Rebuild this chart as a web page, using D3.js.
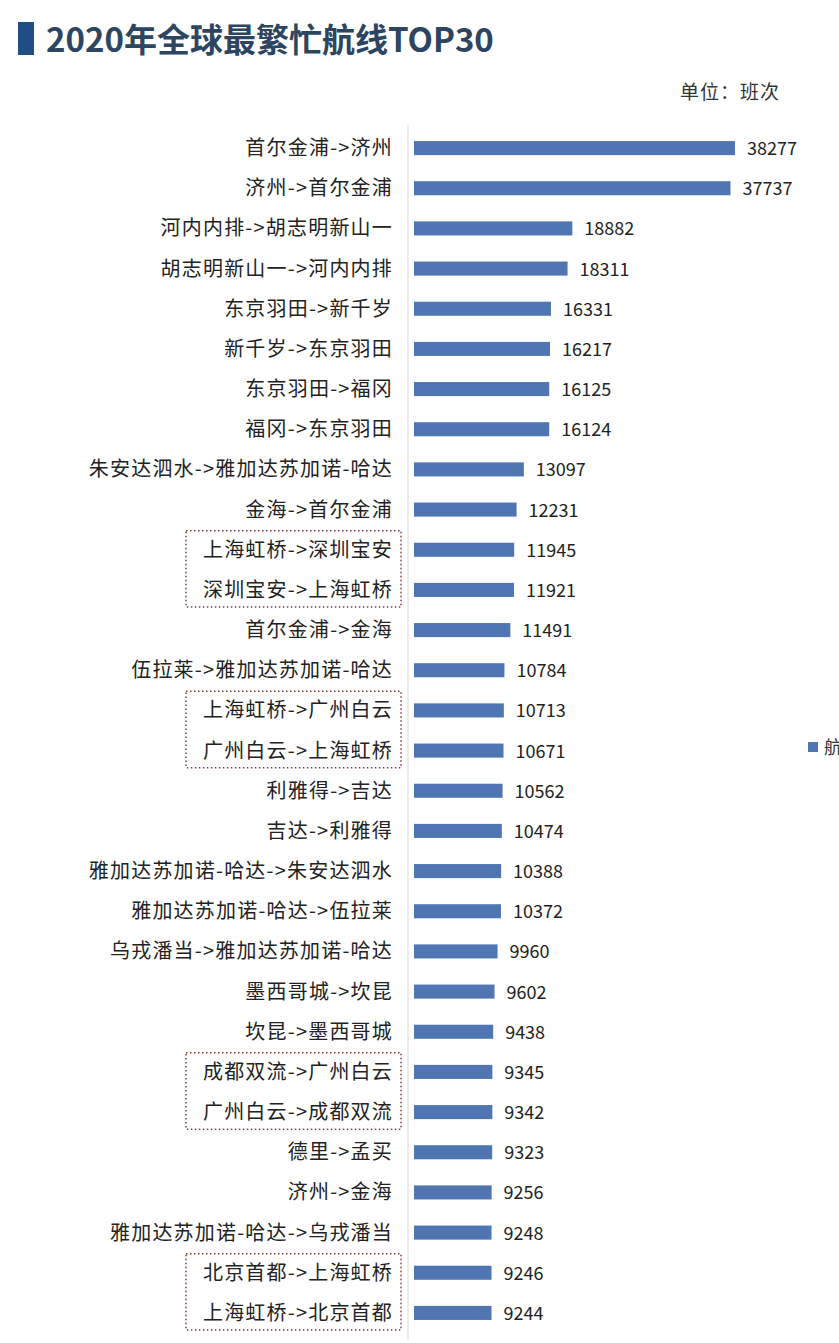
<!DOCTYPE html>
<html><head><meta charset="utf-8">
<script src="https://cdn.jsdelivr.net/npm/d3@7"></script>
<style>body{margin:0;background:#fff}text{font-family:"Noto Sans CJK SC","Noto Sans",sans-serif}</style>
</head><body><div id="chart"></div>
<script>
var routes = ["首尔金浦->济州","济州->首尔金浦","河内内排->胡志明新山一","胡志明新山一->河内内排","东京羽田->新千岁","新千岁->东京羽田","东京羽田->福冈","福冈->东京羽田","朱安达泗水->雅加达苏加诺-哈达","金海->首尔金浦","上海虹桥->深圳宝安","深圳宝安->上海虹桥","首尔金浦->金海","伍拉莱->雅加达苏加诺-哈达","上海虹桥->广州白云","广州白云->上海虹桥","利雅得->吉达","吉达->利雅得","雅加达苏加诺-哈达->朱安达泗水","雅加达苏加诺-哈达->伍拉莱","乌戎潘当->雅加达苏加诺-哈达","墨西哥城->坎昆","坎昆->墨西哥城","成都双流->广州白云","广州白云->成都双流","德里->孟买","济州->金海","雅加达苏加诺-哈达->乌戎潘当","北京首都->上海虹桥","上海虹桥->北京首都"]
var flights = [38277,37737,18882,18311,16331,16217,16125,16124,13097,12231,11945,11921,11491,10784,10713,10671,10562,10474,10388,10372,9960,9602,9438,9345,9342,9323,9256,9248,9246,9244]
var boxedPairs = [10,14,23,28]

var W = 839, H = 1343
var svg = d3.select("#chart").append("svg").attr("width", W).attr("height", H)

svg.append("rect").attr("x",18).attr("y",22).attr("width",16).attr("height",33).attr("fill","#1f4e86")
svg.append("text").attr("x",46).attr("y",52).attr("font-size",33).attr("font-weight","bold")
    .attr("fill","#2c4560").text("2020年全球最繁忙航线TOP30")
svg.append("text").attr("x",780).attr("y",99).attr("text-anchor","end").attr("font-size",19)
    .attr("letter-spacing",1).attr("fill","#333").text("单位：班次")

var x = d3.scaleLinear().domain([0,38277]).range([414,735])
var y = d3.scaleBand().domain(d3.range(routes.length)).range([129,1332]).paddingInner(0.65).paddingOuter(0.3)

svg.append("line").attr("x1",408).attr("x2",408).attr("y1",125).attr("y2",1340).attr("stroke","#d9d9d9")

svg.selectAll(".bar").data(flights).enter().append("rect")
    .attr("x", x(0)).attr("y",(d,i)=>y(i)).attr("width",d=>x(d)-x(0)).attr("height",y.bandwidth())
    .attr("fill","#4f76b3")
svg.selectAll(".val").data(flights).enter().append("text")
    .attr("x",d=>x(d)+12).attr("y",(d,i)=>y(i)+y.bandwidth()/2+7).attr("font-size",18).attr("fill","#222")
    .text(d=>d)
svg.selectAll(".lab").data(routes).enter().append("text")
    .attr("x",393).attr("y",(d,i)=>y(i)+y.bandwidth()/2+7).attr("text-anchor","end").attr("font-size",20)
    .attr("letter-spacing",1.2).attr("fill","#222").text(d=>d)

var step = y.step()
svg.selectAll(".box").data(boxedPairs).enter().append("rect")
    .attr("x",186).attr("width",215)
    .attr("y",i=>y(i)+y.bandwidth()/2-step/2+1).attr("height",step*2-4)
    .attr("fill","none").attr("stroke","#8a3a3a").attr("stroke-width",1.5).attr("stroke-dasharray","1.5,2.5")

svg.append("rect").attr("x",808).attr("y",742).attr("width",10).attr("height",10).attr("fill","#4f76b3")
svg.append("text").attr("x",824).attr("y",754).attr("font-size",18).attr("fill","#333").text("航线")
</script></body></html>
